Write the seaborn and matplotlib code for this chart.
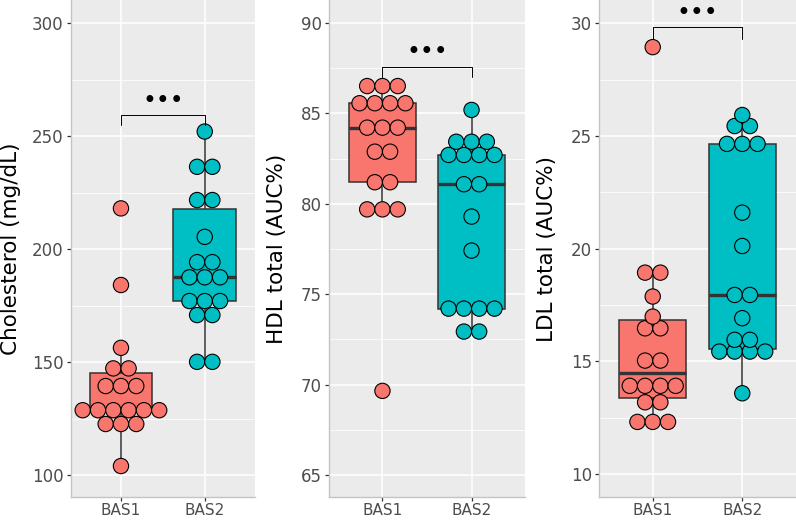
import numpy as np
import pandas as pd
import seaborn as sns
import matplotlib
matplotlib.use("Agg")
import matplotlib.pyplot as plt
from matplotlib.ticker import MultipleLocator

###########################################################################
# data (values repeated where dots share a bin)

groups = ["BAS1", "BAS2"]
palette = {"BAS1": "#F8766D", "BAS2": "#00BFC4"}

chol_bas1 = [104.0, 122.6, 122.6, 122.6, 128.7, 128.7, 128.7, 128.7, 128.7,
             128.7, 139.4, 139.4, 139.4, 147.2, 147.2, 156.3, 184.1, 218.0]
chol_bas2 = [150.1, 150.1, 170.8, 170.8, 177.0, 177.0, 177.0, 187.5, 187.5,
             187.5, 194.2, 194.2, 205.4, 221.7, 221.7, 236.4, 236.4, 252.0]

hdl_bas1 = [69.65, 79.69, 79.69, 79.69, 81.19, 81.19, 82.88, 82.88, 84.21,
            84.21, 84.21, 85.56, 85.56, 85.56, 85.56, 86.51, 86.51, 86.51]
hdl_bas2 = [72.93, 72.93, 74.20, 74.20, 74.20, 74.20, 77.41, 79.29, 81.08,
            81.08, 82.70, 82.70, 82.70, 82.70, 83.43, 83.43, 83.43, 85.19]

ldl_bas1 = [12.32, 12.32, 12.32, 13.19, 13.19, 13.92, 13.92, 13.92, 13.92,
            15.04, 15.04, 16.47, 16.47, 16.99, 17.88, 18.94, 18.94, 28.94]
ldl_bas2 = [13.59, 15.44, 15.44, 15.44, 15.44, 15.96, 15.96, 16.92, 17.95,
            17.95, 20.12, 21.60, 24.65, 24.65, 24.65, 25.44, 25.44, 25.93]

y_labels = ["Cholesterol (mg/dL)", "HDL total (AUC%)", "LDL total (AUC%)"]
y_limits = [(90.3, 310.2), (63.78, 91.27), (8.99, 31.03)]
y_steps = [50, 5, 5]
# significance bracket: (bar height, tick end, star height)
brackets = [(259.3, 254.9, 265.6), (87.59, 87.03, 88.40), (29.85, 29.29, 30.44)]
sig_text = "•••"

###########################################################################
# layout (pixels of the 796x520 reference)

W, H = 796, 520
panel_px = [(70.7, 184.3), (329.0, 196.0), (599.0, 197.0)]
panel_bottom, panel_height = 23.0, 497.0
dot_px = 15.3
label_right_px = [50.0, 42.3, 42.3]


def stack_offsets(values, step):
    """centre-stacked offsets for dots sharing the same value"""
    values = np.asarray(values)
    offsets = np.zeros(len(values))
    for v in np.unique(values):
        idx = np.where(values == v)[0]
        n = len(idx)
        offsets[idx] = (np.arange(n) - (n - 1) / 2) * step
    return offsets


sns.set_theme(style="darkgrid", rc={
    "axes.facecolor": "#EBEBEB",
    "grid.color": "white",
})
plt.rcParams["font.family"] = ["DejaVu Sans"]

fig = plt.figure(figsize=(W / 100, H / 100), dpi=100)

datasets = [(chol_bas1, chol_bas2), (hdl_bas1, hdl_bas2), (ldl_bas1, ldl_bas2)]

for i, (b1, b2) in enumerate(datasets):
    left, width = panel_px[i]
    ax = fig.add_axes([left / W, panel_bottom / H, width / W, panel_height / H])

    df = pd.DataFrame({
        "group": ["BAS1"] * len(b1) + ["BAS2"] * len(b2),
        "value": list(b1) + list(b2),
    })

    sns.boxplot(data=df, x="group", y="value", hue="group", order=groups,
                palette=palette, saturation=1, width=0.75, showfliers=False,
                linecolor="#333333", linewidth=1.1, legend=False,
                medianprops={"linewidth": 2.4},
                capprops={"linewidth": 0}, ax=ax)

    # dot-plot style stacking
    step = dot_px / (width / 2.2)
    xs = np.concatenate([0 + stack_offsets(b1, step), 1 + stack_offsets(b2, step)])
    dots = df.assign(x=xs)
    sns.scatterplot(data=dots, x="x", y="value", hue="group", palette=palette,
                    s=(dot_px * 0.72) ** 2, edgecolor="black", linewidth=0.8,
                    legend=False, zorder=5, ax=ax)

    # significance bracket
    bar, tick_end, star = brackets[i]
    ax.plot([0, 0, 1, 1], [tick_end, bar, bar, tick_end], color="black",
            lw=0.7, zorder=6)
    ax.text(0.5, star, sig_text, ha="center", va="center", fontsize=17,
            color="black", zorder=6)

    ax.set_xlim(-0.6, 1.6)
    ax.set_ylim(*y_limits[i])
    ax.set_xticks([0, 1])
    ax.set_xticklabels(groups)
    ax.yaxis.set_major_locator(MultipleLocator(y_steps[i]))
    ax.yaxis.set_minor_locator(MultipleLocator(y_steps[i] / 2))
    ax.grid(which="major", color="white", linewidth=1.1)
    ax.grid(which="minor", axis="y", color="white", linewidth=0.55)
    ax.set_axisbelow(True)

    ax.tick_params(axis="y", which="major", length=3, width=0.9,
                   color="#333333", labelsize=12, labelcolor="#4D4D4D", pad=2,
                   left=True)
    ax.tick_params(axis="x", which="major", length=3, width=0.9,
                   color="#333333", labelsize=11, labelcolor="#4D4D4D", pad=1,
                   bottom=True)
    ax.tick_params(axis="y", which="minor", length=0)

    ax.set_xlabel("")
    ax.set_ylabel(y_labels[i], fontsize=15.5, color="black")
    ax.yaxis.set_label_coords(-label_right_px[i] / width, 0.5)

    for side in ["top", "right"]:
        ax.spines[side].set_visible(False)
    for side in ["left", "bottom"]:
        ax.spines[side].set_visible(True)
        ax.spines[side].set_color("#C4C4C4")
        ax.spines[side].set_linewidth(1.0)

fig.savefig("out.png", dpi=100)
